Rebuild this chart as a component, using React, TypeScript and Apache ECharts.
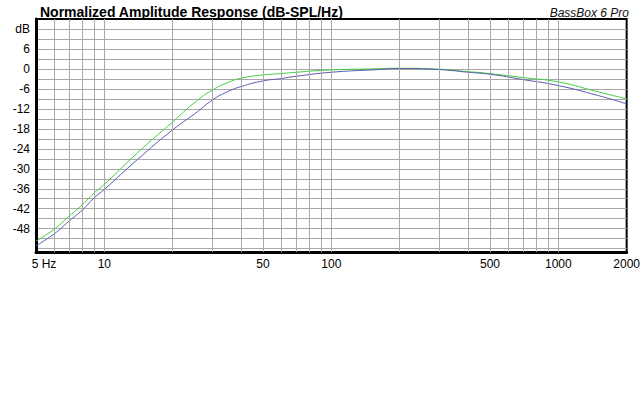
import React, { useEffect, useRef } from 'react'
import * as echarts from 'echarts'

// frequency (Hz) and normalized response (dB)
const freqs = [5, 6, 7, 8, 9, 10, 14, 20, 25, 30, 35, 40, 50, 60, 70, 100, 150, 200, 300, 400, 500, 700, 1000, 1500, 2000]
const greenDb = [-51.7, -48.2, -44.2, -40.8, -37.3, -34.7, -25.2, -15.9, -10.1, -6.3, -4.1, -2.8, -1.8, -1.4, -1.0, -0.3, 0.0, 0.2, -0.1, -0.8, -1.4, -2.6, -3.9, -6.9, -9.0]
const blueDb = [-53.1, -49.6, -45.7, -42.4, -38.8, -36.2, -27.2, -18.3, -13.5, -9.3, -6.8, -5.3, -3.6, -2.9, -2.2, -1.0, -0.3, 0.1, -0.2, -1.0, -1.6, -3.2, -5.0, -8.0, -10.5]

const xLabelValues = [5, 10, 50, 100, 500, 1000, 2000]
const xGridValues = [6, 7, 8, 9, 10, 20, 30, 40, 50, 60, 70, 80, 90, 100, 200, 300, 400, 500, 600, 700, 800, 900, 1000]
const yLabelValues = [12, 6, 0, -6, -12, -18, -24, -30, -36, -42, -48]
const yGridValues = [12, 9, 6, 3, 0, -3, -6, -9, -12, -15, -18, -21, -24, -27, -30, -33, -36, -39, -42, -45, -48, -51, -54]

const FONT = '"Liberation Sans", Arial, sans-serif'
const GRID = '#a8a8a8'

export default function App(): JSX.Element {
  const ref = useRef<HTMLDivElement>(null)

  useEffect(() => {
    if (!ref.current) return
    const chart = echarts.init(ref.current, undefined, { renderer: 'svg' })
    chart.setOption({
      animation: false,
      backgroundColor: '#fff',
      title: [
        { text: 'Normalized Amplitude Response (dB-SPL/Hz)', left: 35, top: 0,
          textStyle: { fontFamily: FONT, fontSize: 14, fontWeight: 'bold', color: '#000' } },
        { text: 'BassBox 6 Pro', right: 9, top: 2,
          textStyle: { fontFamily: FONT, fontSize: 12, fontWeight: 'normal', fontStyle: 'italic', color: '#111' } },
      ],
      grid: { left: 36, right: 10, top: 19, bottom: 158, show: true, borderColor: '#000', borderWidth: 2, backgroundColor: 'transparent' },
      xAxis: {
        type: 'log', logBase: 10, min: 5, max: 2000,
        axisLine: { show: true, onZero: false, lineStyle: { color: '#000', width: 3 } },
        axisTick: { show: false },
        splitLine: { show: false },
        axisLabel: {
          customValues: xLabelValues, margin: 6, color: '#000', fontFamily: FONT, fontSize: 12,
          formatter: (v: number) => (v === 5 ? '{l|5 Hz}' : String(v)),
          rich: { l: { fontFamily: FONT, fontSize: 12, color: '#000', padding: [0, 0, 0, 16] } },
        },
      },
      yAxis: {
        type: 'value', min: -55, max: 15,
        axisLine: { show: true, onZero: false, lineStyle: { color: '#000', width: 3 } },
        axisTick: { show: false, customValues: yGridValues },
        splitLine: { show: true, lineStyle: { color: GRID, width: 1 } },
        axisLabel: {
          customValues: yLabelValues, margin: 6, color: '#000', fontFamily: FONT, fontSize: 12,
          formatter: (v: number) => (v === 12 ? 'dB' : String(v)),
        },
      },
      series: [
        { name: 'grid', type: 'line', data: [], z: 1, silent: true,
          markLine: { silent: true, symbol: 'none', label: { show: false },
            lineStyle: { color: GRID, width: 1, type: 'solid' },
            data: xGridValues.map(v => ({ xAxis: v })) } },
        { name: 'green', type: 'line', showSymbol: false, smooth: 0.5, z: 3,
          lineStyle: { color: '#3fcf3f', width: 1 }, data: freqs.map((f, i) => [f, greenDb[i]]) },
        { name: 'blue', type: 'line', showSymbol: false, smooth: 0.5, z: 4,
          lineStyle: { color: '#5a5aae', width: 1 }, data: freqs.map((f, i) => [f, blueDb[i]]) },
      ],
    })
    return () => { chart.dispose() }
  }, [])

  return <div ref={ref} style={{ position: 'fixed', left: 0, top: 0, width: 643, height: 410, background: '#fff' }} />
}
